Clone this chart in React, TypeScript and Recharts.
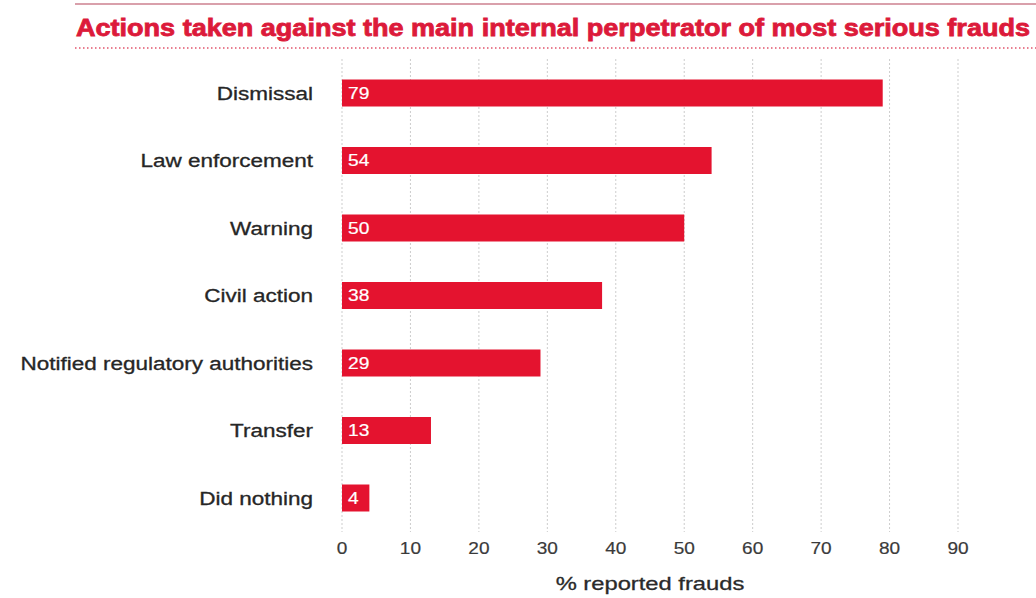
import React from 'react';
import { BarChart, Bar, XAxis, YAxis, CartesianGrid, LabelList, Label } from 'recharts';

const categories = [
  'Dismissal',
  'Law enforcement',
  'Warning',
  'Civil action',
  'Notified regulatory authorities',
  'Transfer',
  'Did nothing',
];
const values = [79, 54, 50, 38, 29, 13, 4];
const xTicks = [0, 10, 20, 30, 40, 50, 60, 70, 80, 90];
const titleText = 'Actions taken against the main internal perpetrator of most serious frauds';
const axisTitle = '% reported frauds';

const data = categories.map((name, i) => ({ name, value: values[i] }));

const FONT = '"Liberation Sans", Arial, Helvetica, sans-serif';
const RED = '#e4132f';

function StretchText(props: any) {
  const { x, y, sx = 1.18, anchor = 'start', size = 16, fill = '#222', weight = 'normal', dy = '0.35em', sw = 0, children } = props;
  return (
    <text
      transform={`translate(${x},${y}) scale(${sx},1)`}
      x={0}
      y={0}
      dy={dy}
      textAnchor={anchor}
      fontSize={size}
      fontWeight={weight}
      fill={fill}
      stroke={sw ? fill : 'none'}
      strokeWidth={sw}
      fontFamily={FONT}
    >
      {children}
    </text>
  );
}

const YTick = (props: any) => {
  const { x, y, payload } = props;
  return (
    <StretchText x={x} y={y} anchor="end" size={18} sx={1.25} fill="#262626" sw={0.3}>
      {payload.value}
    </StretchText>
  );
};

const XTick = (props: any) => {
  const { x, y, payload } = props;
  return (
    <StretchText x={x} y={y} anchor="middle" size={17} sx={1.12} fill="#3a3a3a" dy="0.71em" sw={0.2}>
      {payload.value}
    </StretchText>
  );
};

const BarValue = (props: any) => {
  const { x, y, height, value } = props;
  return (
    <StretchText x={x + 6} y={y + height / 2} anchor="start" size={16} sx={1.2} fill="#ffffff" sw={0.2}>
      {value}
    </StretchText>
  );
};

const AxisTitle = (props: any) => {
  const { viewBox } = props;
  const cx = viewBox.x + viewBox.width / 2;
  return (
    <StretchText x={cx} y={viewBox.y + 51} anchor="middle" size={19} sx={1.25} fill="#2a2a2a" sw={0.3}>
      {axisTitle}
    </StretchText>
  );
};

export default function App() {
  return (
    <div style={{ position: 'absolute', left: 0, top: 0, width: 1036, height: 598, background: '#fff' }}>
      <svg width={1036} height={70} style={{ position: 'absolute', left: 0, top: 0 }}>
        <line x1={75} x2={1036} y1={4} y2={4} stroke="#d9a0ab" strokeWidth={2} />
        <text
          x={76}
          y={36}
          fontSize={23}
          fontWeight="bold"
          fill="#dc1a3a"
          stroke="#dc1a3a"
          strokeWidth={0.8}
          fontFamily={FONT}
          textLength={954}
          lengthAdjust="spacingAndGlyphs"
        >
          {titleText}
        </text>
        <line x1={75} x2={1036} y1={48} y2={48} stroke="#e2546c" strokeWidth={1.6} strokeDasharray="1.5 2.5" />
      </svg>
      <div style={{ position: 'absolute', left: 0, top: 0 }}>
        <BarChart
          width={1036}
          height={598}
          data={data}
          layout="vertical"
          margin={{ top: 59.5, right: 78, bottom: 0, left: 0 }}
          barCategoryGap={0}
        >
          <CartesianGrid horizontal={false} vertical={true} stroke="#9a9a9a" strokeDasharray="1 3" />
          <XAxis
            type="number"
            domain={[0, 90]}
            ticks={xTicks}
            axisLine={false}
            tickLine={false}
            tick={<XTick />}
            tickMargin={4}
            height={66}
            interval={0}
          >
            <Label content={<AxisTitle />} />
          </XAxis>
          <YAxis
            type="category"
            dataKey="name"
            width={342}
            axisLine={false}
            tickLine={false}
            tick={<YTick />}
            tickMargin={23}
            interval={0}
          />
          <Bar dataKey="value" fill={RED} barSize={27} isAnimationActive={false}>
            <LabelList dataKey="value" content={<BarValue />} />
          </Bar>
        </BarChart>
      </div>
    </div>
  );
}
